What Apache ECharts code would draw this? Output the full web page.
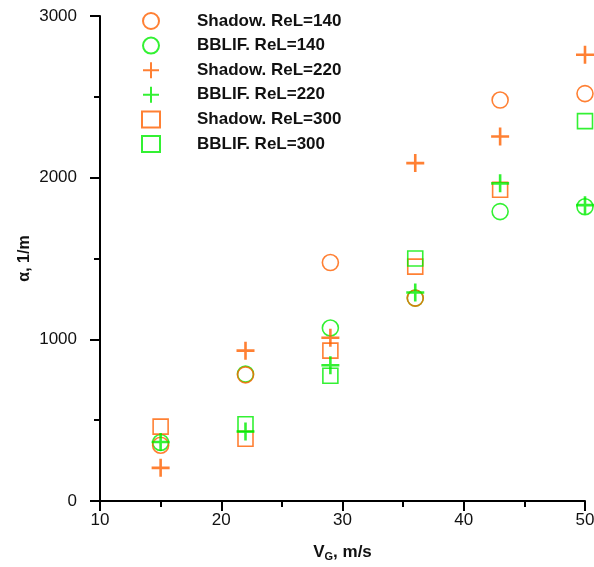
<!DOCTYPE html>
<html>
<head>
<meta charset="utf-8">
<script src="https://cdn.jsdelivr.net/npm/echarts@6/dist/echarts.min.js"></script>
<style>
  html, body { margin: 0; padding: 0; background: #fff; }
  #chart { width: 594px; height: 567px; }
</style>
</head>
<body>
<div id="chart"></div>
<script>
// gas velocity, m/s
const vg = [15, 22, 29, 36, 43, 50]

// alpha, 1/m (null = point not shown)
const shadow140 = [345, 780, 1475, 1255, 2480, 2520]
const bblif140 = [362, 785, 1070, 1255, 1790, 1820]
const shadow220 = [205, 930, 1010, 2090, 2255, 2760]
const bblif220 = [365, 430, 840, 1290, 1965, 1830]
const shadow300 = [460, 385, 930, 1450, 1925, null]
const bblif300 = [null, 475, 775, 1500, null, 2350]

const legendNames = [
  'Shadow. ReL=140',
  'BBLIF. ReL=140',
  'Shadow. ReL=220',
  'BBLIF. ReL=220',
  'Shadow. ReL=300',
  'BBLIF. ReL=300'
]

const ORANGE = '#ff6000'
const GREEN = '#00ee00'
const FONT = '"Liberation Sans", Arial, sans-serif'
const PLUS = 'path://M0,9 L18,9 M9,0 L9,18'

const pairs = (ys) => vg.map((x, i) => [x, ys[i]]).filter(p => p[1] != null)

const makeSeries = (name, ys, symbol, color, size, width) => ({
  name,
  type: 'scatter',
  data: pairs(ys),
  symbol,
  symbolSize: size,
  itemStyle: { color: 'transparent', borderColor: color, borderWidth: width },
  emphasis: { disabled: true }
})

// draw order chosen to match which marks sit on top in the picture
const series = [
  makeSeries(legendNames[1], bblif140, 'circle', GREEN, 16, 1.6),
  makeSeries(legendNames[0], shadow140, 'circle', ORANGE, 16, 1.6),
  makeSeries(legendNames[4], shadow300, 'rect', ORANGE, 15, 1.6),
  makeSeries(legendNames[2], shadow220, PLUS, ORANGE, 18, 2.6),
  makeSeries(legendNames[3], bblif220, PLUS, GREEN, 18, 2.6),
  makeSeries(legendNames[5], bblif300, 'rect', GREEN, 15, 1.6)
]

const chart = echarts.init(document.getElementById('chart'))

chart.setOption({
  animation: false,
  backgroundColor: '#fff',
  grid: { left: 100, right: 9, top: 16, bottom: 66, containLabel: false, outerBoundsMode: 'none' },
  legend: {
    data: legendNames,
    orient: 'vertical',
    left: 136,
    top: 7,
    itemWidth: 18,
    itemHeight: 16,
    itemGap: 6.6,
    selectedMode: false,
    textStyle: {
      fontFamily: FONT,
      fontWeight: 'bold',
      fontSize: 17,
      lineHeight: 18,
      color: '#111',
      padding: [0, 0, 0, 32]
    }
  },
  xAxis: {
    type: 'value',
    min: 10,
    max: 50,
    interval: 10,
    name: '{b|V}{s|G}{b|, m/s}',
    nameLocation: 'middle',
    nameGap: 41,
    nameMoveOverlap: false,
    nameTextStyle: {
      rich: {
        b: { fontFamily: FONT, fontWeight: 'bold', fontSize: 17, color: '#111' },
        s: { fontFamily: FONT, fontWeight: 'bold', fontSize: 11, color: '#111', verticalAlign: 'bottom', padding: [9, 0, 0, 0] }
      }
    },
    axisLine: { onZero: false, lineStyle: { color: '#000', width: 2 } },
    axisTick: { length: 10, lineStyle: { color: '#000', width: 2 } },
    minorTick: { show: true, splitNumber: 2, length: 6, lineStyle: { color: '#000', width: 2 } },
    axisLabel: { margin: 11, fontFamily: FONT, fontSize: 17, color: '#111' },
    splitLine: { show: false }
  },
  yAxis: {
    type: 'value',
    min: 0,
    max: 3000,
    interval: 1000,
    name: 'α, 1/m',
    nameLocation: 'middle',
    nameGap: 67,
    nameMoveOverlap: false,
    nameRotate: 90,
    nameTextStyle: { fontFamily: FONT, fontWeight: 'bold', fontSize: 16, color: '#111' },
    axisLine: { onZero: false, lineStyle: { color: '#000', width: 2 } },
    axisTick: { length: 10, lineStyle: { color: '#000', width: 2 } },
    minorTick: { show: true, splitNumber: 2, length: 6, lineStyle: { color: '#000', width: 2 } },
    axisLabel: { margin: 23, fontFamily: FONT, fontSize: 17, color: '#111', formatter: (v) => String(v) },
    splitLine: { show: false }
  },
  series
})
</script>
</body>
</html>
